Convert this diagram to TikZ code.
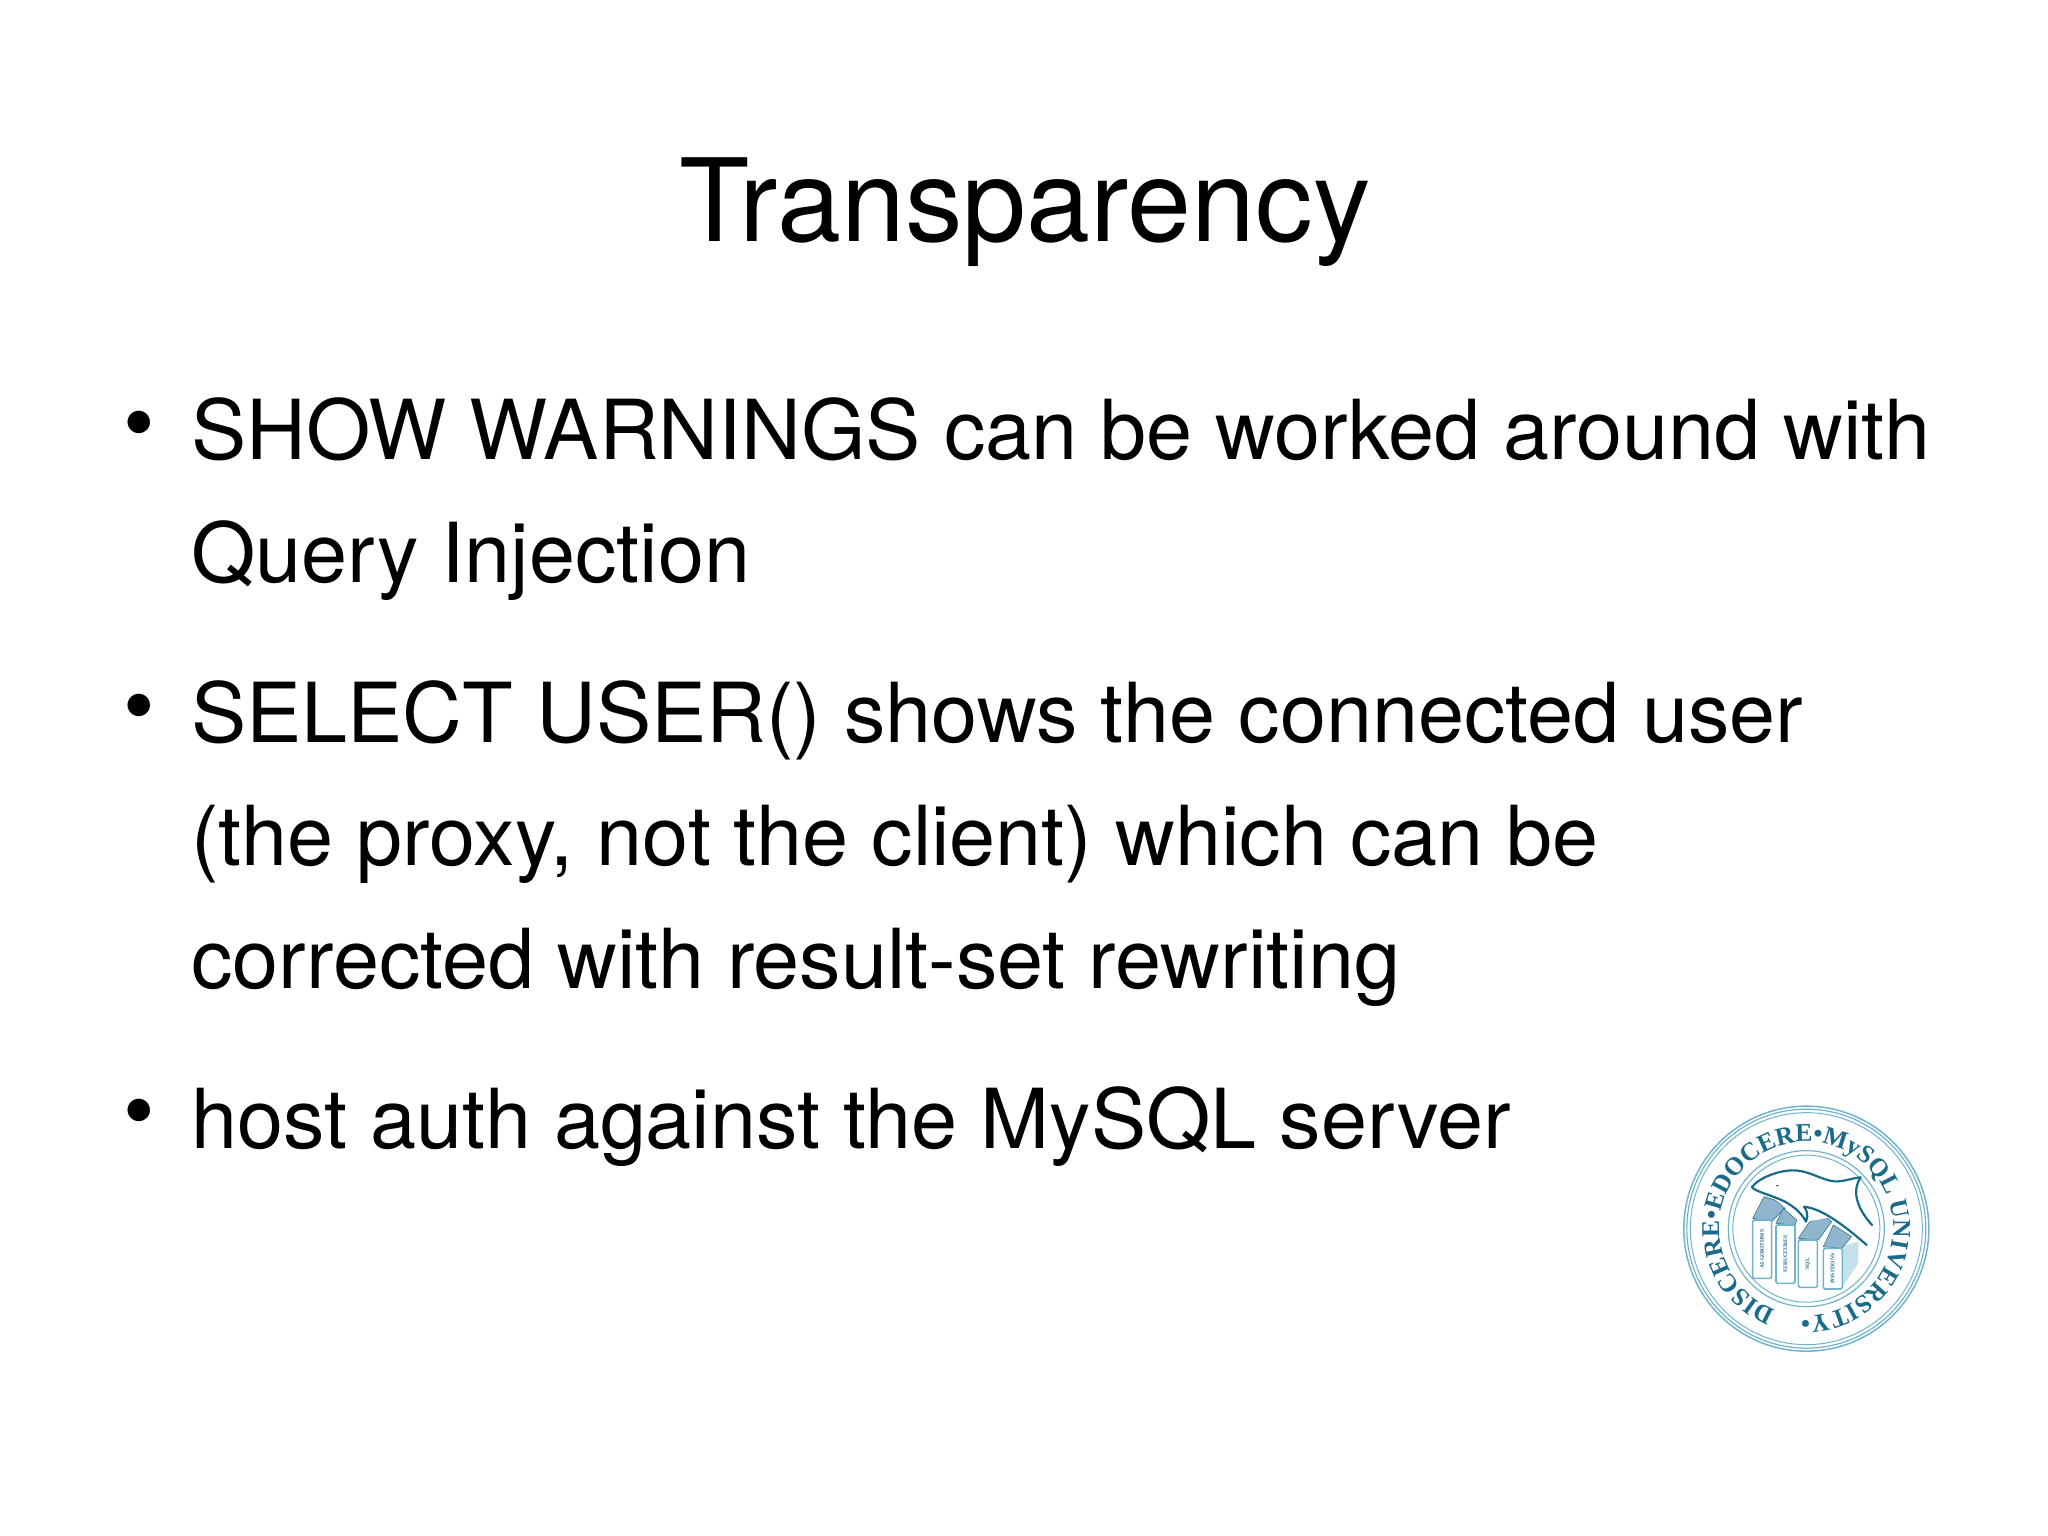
\documentclass[tikz,border=0pt]{standalone}
\usepackage{fontspec}
\usepackage{xcolor}
\usetikzlibrary{decorations.text}
\setmainfont{TeX Gyre Heros}
\newfontfamily\sealfont{Liberation Serif}
\definecolor{sealteal}{HTML}{1A6A8A}
\definecolor{sealring}{HTML}{6FB3CC}
\definecolor{sealbook}{HTML}{8FB6CC}
\tikzset{
  slidetitle/.style={anchor=base,inner sep=0pt,font=\fontsize{115}{115}\selectfont},
  slideline/.style={anchor=base west,inner sep=0pt,font=\fontsize{82.8}{82.8}\selectfont},
  slidebullet/.style={anchor=base,inner sep=0pt,font=\fontsize{90}{90}\selectfont},
  bookfront/.style={draw=sealring,fill=white,line width=1.6pt,rounded corners=1.5pt},
  booktop/.style={draw=sealteal,fill=sealbook,line width=.5pt},
  booklabel/.style={rotate=90,text=sealteal,inner sep=0pt,font=\sealfont\bfseries\fontsize{5.5}{5.5}\selectfont},
}
\begin{document}
\begin{tikzpicture}[x=1pt,y=-1pt]
\useasboundingbox (0,0) rectangle (2048,1535);
\node[slidetitle](title) at (1025,241){Transparency};
\foreach \y/\t[count=\i from 1] in {
  459/SHOW WARNINGS can be worked around with,
  582/Query Injection,
  742/SELECT USER() shows the connected user,
  865/{(the proxy, not the client) which can be},
  988/corrected with result-set rewriting,
  1148/host auth against the MySQL server
}
\node[slideline](L\i) at (191,\y){\t};
\foreach \y[count=\i from 1] in {453,736,1141}
\node[slidebullet](B\i) at (139,\y){\textbullet};
\begin{scope}[shift={(1660,1090)},x=.3333pt,y=-.3333pt]
\coordinate (seal) at (439,416);
\foreach \r/\w in {122.5/1.5,119.5/1.2,116/1,78/1.2,73.5/1}
  \draw[sealring,line width=\w pt] (seal) circle[radius=\r pt];
\path[decorate,decoration={text along path,text align=center,
    text={|\sealfont\bfseries\fontsize{25.5}{25.5}\selectfont\color{sealteal}|DISCERE•EDOCERE•MySQL UNIVERSITY•}}]
  ([shift=(256:87pt)]seal) arc[start angle=256,end angle=-100,radius=87pt];
\fill[sealring!40] (545,470) -- (595,455) -- (595,520) -- (545,595) -- cycle;
\foreach \p in {
  {(278,385) -- (312,320) -- (345,330) -- (375,355) -- (335,395)},
  {(348,400) -- (370,355) -- (410,390) -- (405,405)},
  {(415,445) -- (445,400) -- (485,370) -- (515,395) -- (475,450)},
  {(490,470) -- (520,405) -- (575,440) -- (545,475)}
}
\draw[booktop] \p -- cycle;
\foreach \x/\yt/\yb/\t[count=\i from 1] in {
  278/390/565/ALGORITHMS,
  348/405/580/STRUCTURES,
  415/450/592/SQL,
  490/475/597/POSITIONS
}{
  \draw[bookfront] (\x,\yt) rectangle (\x+57,\yb);
  \node[booklabel](S\i) at (\x+28,{(\yt+\yb)/2}){\t};
}
\fill[white] (276,291) .. controls (300,262) and (360,240) .. (410,242)
  .. controls (450,245) and (490,275) .. (520,272) -- (600,262)
  -- (636,405) -- (620,465) -- (520,380) -- (440,395) -- (380,340) -- cycle;
\draw[sealteal,line width=2.2pt,line join=round,line cap=round]
  (636,405) .. controls (600,365) and (570,310) .. (602,262)
  .. controls (570,265) and (540,280) .. (510,272)
  .. controls (470,262) and (440,240) .. (395,241)
  .. controls (350,243) and (295,265) .. (276,291)
  .. controls (285,305) and (335,315) .. (375,335)
  .. controls (405,352) and (425,370) .. (438,395)
  .. controls (446,375) and (440,360) .. (432,350)
  .. controls (480,355) and (540,395) .. (620,465);
\fill[sealteal] (352,287) ellipse[x radius=5,y radius=2.5];
\end{scope}
\end{tikzpicture}
\end{document}
